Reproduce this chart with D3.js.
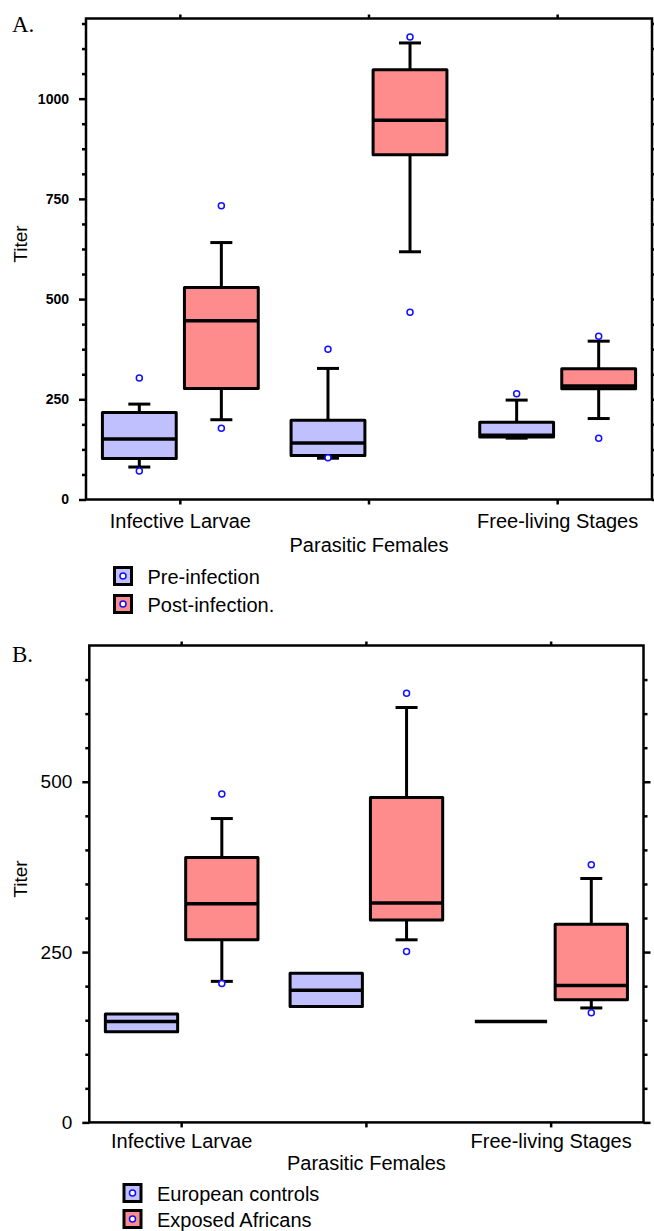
<!DOCTYPE html>
<html lang="en">
<head>
<meta charset="UTF-8">
<title>Titer box plots</title>
<script src="https://d3js.org/d3.v7.min.js"></script>
<style>
  body { margin: 0; background: #fff; }
  svg { display: block; font-family: "Liberation Sans", Arial, sans-serif; }
</style>
</head>
<body>
<svg id="chart" width="654" height="1231"></svg>
<script>
const categories = ["Infective Larvae", "Parasitic Females", "Free-living Stages"];

// each stat row: [low whisker, Q1, median, Q3, high whisker]
const aGroups = ["Pre-infection", "Post-infection."];
const aPreStats = [[81, 102, 151, 217, 238], [103, 110, 141, 198, 327], [153, 156, 160, 193, 248]];
const aPreOutliers = [[71, 303], [104, 375], [264]];
const aPostStats = [[199, 277, 446, 529, 641], [618, 860, 946, 1072, 1139], [202, 276, 283, 326, 395]];
const aPostOutliers = [[178, 733], [467, 1154], [153, 407]];
const aTicks = [0, 250, 500, 750, 1000];

const bGroups = ["European controls", "Exposed Africans"];
const bEuroStats = [[133, 133, 148, 159, 159], [170, 170, 194, 219, 219], [148, 148, 148, 148, 148]];
const bEuroOutliers = [[], [], []];
const bAfrStats = [[207, 268, 321, 389, 446], [268, 297, 322, 477, 609], [168, 180, 201, 291, 358]];
const bAfrOutliers = [[204, 482], [251, 630], [161, 378]];
const bTicks = [0, 250, 500];

const groupColors = ["#c0c0ff", "#ff8c8c"];
const outlierColor = "#1010ff";

const svg = d3.select("#chart");

function drawPanel(cfg) {
  const g = svg.append("g");

  const x = d3.scaleBand().domain(categories).range([cfg.left, cfg.right]).padding(0);
  const xg = d3.scaleBand().domain(cfg.groups).range([0, x.bandwidth()])
    .paddingInner(0.1).paddingOuter(0.2);
  const y = d3.scaleLinear().domain([0, cfg.max]).range([cfg.bottom, cfg.top]);

  const minor = d3.range(0, cfg.max, cfg.minorStep).filter(v => !cfg.ticks.includes(v));

  // left axis: minor + major ticks
  g.append("g").attr("transform", `translate(${cfg.left},0)`)
    .call(d3.axisLeft(y).tickValues(minor).tickSize(4).tickFormat(""))
    .call(a => a.select(".domain").remove());
  g.append("g").attr("transform", `translate(${cfg.left},0)`)
    .call(d3.axisLeft(y).tickValues(cfg.ticks).tickSize(7).tickPadding(cfg.tickPad).tickFormat(d3.format("d")))
    .call(a => a.select(".domain").remove())
    .call(a => a.selectAll("text")
      .attr("font-family", "'Liberation Sans', Arial, sans-serif")
      .attr("font-size", cfg.tickFont)
      .attr("font-weight", cfg.tickWeight)
      .attr("fill", "#000"));

  // right axis
  g.append("g").attr("transform", `translate(${cfg.right},0)`)
    .call(d3.axisRight(y).tickValues(minor).tickSize(4).tickFormat(""))
    .call(a => a.select(".domain").remove());
  g.append("g").attr("transform", `translate(${cfg.right},0)`)
    .call(d3.axisRight(y).tickValues(cfg.ticks).tickSize(7).tickFormat(""))
    .call(a => a.select(".domain").remove());

  // top and bottom ticks at category centres
  g.append("g").attr("transform", `translate(0,${cfg.top})`)
    .call(d3.axisTop(x).tickSize(4).tickFormat(""))
    .call(a => a.select(".domain").remove());
  g.append("g").attr("transform", `translate(0,${cfg.bottom})`)
    .call(d3.axisBottom(x).tickSize(5).tickFormat(""))
    .call(a => a.select(".domain").remove());

  g.selectAll(".tick line").attr("stroke", "#000").attr("stroke-width", 2.5);

  // frame
  g.append("rect")
    .attr("x", cfg.left).attr("y", cfg.top)
    .attr("width", cfg.right - cfg.left).attr("height", cfg.bottom - cfg.top)
    .attr("fill", "none").attr("stroke", "#000").attr("stroke-width", 2.5);

  // boxes
  const series = [
    { stats: cfg.stats[0], outliers: cfg.outliers[0], color: groupColors[0], key: cfg.groups[0] },
    { stats: cfg.stats[1], outliers: cfg.outliers[1], color: groupColors[1], key: cfg.groups[1] }
  ];
  const capW = 22;

  series.forEach(s => {
    categories.forEach((cat, i) => {
      const [lo, q1, med, q3, hi] = s.stats[i];
      const x0 = x(cat) + xg(s.key);
      const bw = xg.bandwidth();
      const cx = x0 + bw / 2;
      const bg = g.append("g");

      bg.append("line")
        .attr("x1", cx).attr("x2", cx).attr("y1", y(lo)).attr("y2", y(hi))
        .attr("stroke", "#000").attr("stroke-width", 3);
      if (hi > q3) {
        bg.append("line").attr("x1", cx - capW / 2).attr("x2", cx + capW / 2)
          .attr("y1", y(hi)).attr("y2", y(hi)).attr("stroke", "#000").attr("stroke-width", 3);
      }
      if (lo < q1) {
        bg.append("line").attr("x1", cx - capW / 2).attr("x2", cx + capW / 2)
          .attr("y1", y(lo)).attr("y2", y(lo)).attr("stroke", "#000").attr("stroke-width", 3);
      }
      bg.append("rect")
        .attr("x", x0).attr("y", y(q3))
        .attr("width", bw).attr("height", Math.max(0, y(q1) - y(q3)))
        .attr("fill", s.color).attr("stroke", "#000").attr("stroke-width", 3)
        .attr("stroke-linejoin", "round");
      bg.append("line")
        .attr("x1", x0).attr("x2", x0 + bw).attr("y1", y(med)).attr("y2", y(med))
        .attr("stroke", "#000").attr("stroke-width", 3.5);

      bg.selectAll("circle.out").data(s.outliers[i]).join("circle")
        .attr("class", "out")
        .attr("cx", cx).attr("cy", d => y(d)).attr("r", 3)
        .attr("fill", "#fff").attr("stroke", outlierColor).attr("stroke-width", 1.5);
    });
  });

  // category labels (staggered)
  categories.forEach((cat, i) => {
    g.append("text")
      .attr("x", x(cat) + x.bandwidth() / 2)
      .attr("y", cfg.bottom + (i === 1 ? cfg.row2 : cfg.row1))
      .attr("text-anchor", "middle")
      .attr("font-size", 20)
      .text(cat);
  });

  // y title
  g.append("text")
    .attr("transform", `translate(27,${cfg.titleY}) rotate(-90)`)
    .attr("text-anchor", "middle")
    .attr("font-size", 19)
    .text("Titer");

  // panel letter
  g.append("text")
    .attr("x", 12).attr("y", cfg.letterY)
    .attr("font-family", "'Liberation Serif', 'Times New Roman', serif")
    .attr("font-size", 23)
    .text(cfg.letter);

  // legend
  cfg.groups.forEach((name, i) => {
    const ly = cfg.legendY + i * cfg.legendGap;
    g.append("rect")
      .attr("x", cfg.legendX).attr("y", ly - 8.5)
      .attr("width", 17).attr("height", 17)
      .attr("fill", groupColors[i]).attr("stroke", "#000").attr("stroke-width", 3);
    g.append("circle")
      .attr("cx", cfg.legendX + 8.5).attr("cy", ly).attr("r", 3)
      .attr("fill", "#fff").attr("stroke", outlierColor).attr("stroke-width", 1.5);
    g.append("text")
      .attr("x", cfg.legendX + 33).attr("y", ly + 7.5)
      .attr("font-size", 20)
      .text(name);
  });
}

drawPanel({
  letter: "A.", letterY: 32,
  left: 86, right: 652, top: 18.5, bottom: 499.5, max: 1200, minorStep: 62.5,
  ticks: aTicks, tickFont: 14, tickWeight: "bold", tickPad: 10,
  groups: aGroups, stats: [aPreStats, aPostStats], outliers: [aPreOutliers, aPostOutliers],
  row1: 28.5, row2: 52.5, titleY: 244,
  legendX: 114.5, legendY: 576, legendGap: 28
});

drawPanel({
  letter: "B.", letterY: 662,
  left: 89.3, right: 643.5, top: 645.5, bottom: 1122.4, max: 700, minorStep: 50,
  ticks: bTicks, tickFont: 19, tickWeight: "normal", tickPad: 10,
  groups: bGroups, stats: [bEuroStats, bAfrStats], outliers: [bEuroOutliers, bAfrOutliers],
  row1: 26, row2: 48, titleY: 879,
  legendX: 124, legendY: 1193, legendGap: 26
});
</script>
</body>
</html>
